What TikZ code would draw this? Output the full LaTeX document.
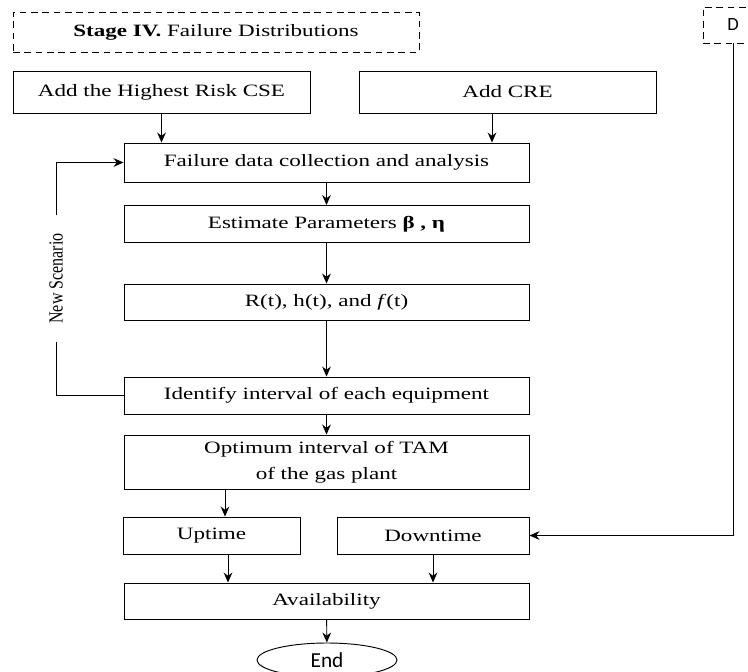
\documentclass[tikz,border=0pt]{standalone}
\usepackage{fontspec}
\setmainfont{Liberation Serif}[FakeStretch=1.33]
\newfontfamily\labelfont{Liberation Serif}[FakeStretch=0.8]
\newfontfamily\calfont{Carlito}
\usetikzlibrary{arrows.meta,positioning,calc,shapes.geometric}
\tikzset{
  stepbox/.style={draw,line width=0.7pt,minimum width=405*0.75pt,align=center,
    font=\fontsize{13}{15.6}\selectfont,inner sep=1pt},
  halfbox/.style={stepbox,minimum width=297*0.75pt,minimum height=42*0.75pt},
  stagebox/.style={draw,dashed,dash pattern=on 5pt off 3.5pt,line width=0.7pt,
    font=\fontsize{13}{15.6}\selectfont,inner sep=1pt},
  arrow/.style={-{Stealth[length=7.5pt,width=6.5pt]},line width=0.7pt},
  link/.style={line width=0.7pt}
}
\begin{document}
\begin{tikzpicture}[x=0.75pt,y=-0.75pt]
  \useasboundingbox (0,0) rectangle (748,671);
  % stage header and inputs
  \node[stagebox,minimum width=406*0.75pt,minimum height=40*0.75pt] (stage) at (216,32)
    {\textbf{Stage IV.} Failure Distributions};
  \node[stagebox,font=\calfont\fontsize{14}{16}\selectfont,minimum width=60*0.75pt,
    minimum height=36*0.75pt] (dbox) at (733,25) {D};
  \node[halfbox] (cse) at (161.5,92) {Add the Highest Risk CSE};
  \node[halfbox] (cre) at (507.5,92) {Add CRE};
  % main chain
  \node[stepbox,minimum height=39*0.75pt] (fail) at (326.5,162.5) {Failure data collection and analysis};
  \node[stepbox,minimum height=37*0.75pt] (est) at (326.5,224) {Estimate Parameters \textbf{β , η}};
  \node[stepbox,minimum height=36*0.75pt] (rel) at (326.5,302) {R(t), h(t), and \textit{f}(t)};
  \node[stepbox,minimum height=37*0.75pt] (ident) at (326.5,395.5) {Identify interval of each equipment};
  \node[stepbox,minimum height=54*0.75pt] (opt) at (326.5,462) {Optimum interval of TAM\\[4pt]of the gas plant};
  \node[stepbox,minimum width=177*0.75pt,minimum height=37*0.75pt] (up) at (211.5,535.5) {Uptime};
  \node[stepbox,minimum width=192*0.75pt,minimum height=37*0.75pt] (down) at (433,535.5) {Downtime};
  \node[stepbox,minimum height=36*0.75pt] (avail) at (326.5,601) {Availability};
  \node[draw,ellipse,line width=0.7pt,minimum width=140*0.75pt,minimum height=34*0.75pt,
    font=\calfont\fontsize{16}{18}\selectfont,inner sep=0pt] (endn) at (327,660) {End};
  \node[rotate=90,font=\labelfont\fontsize{15}{16}\selectfont,minimum width=127*0.75pt,
    inner sep=0pt] (scen) at (56,278.5) {New Scenario};
  \coordinate (crex) at (492,0);
  \coordinate (upx) at (225,0);
  \coordinate (upy) at (228,0);
  % connectors
  \draw[arrow] (cse.south) -- (cse.south |- fail.north);
  \draw[arrow] (cre.south -| crex) -- (fail.north -| crex);
  \draw[arrow] (fail) -- (est);
  \draw[arrow] (est) -- (rel);
  \draw[arrow] (rel) -- (ident);
  \draw[arrow] (ident) -- (opt);
  \draw[arrow] (opt.south -| upx) -- (up.north -| upx);
  \draw[arrow] (up.south -| upy) -- (avail.north -| upy);
  \draw[arrow] (down) -- (down |- avail.north);
  \draw[arrow] (avail) -- (endn);
  \draw[arrow] (dbox.south) |- (down.east);
  \draw[link] (ident.west) -| (scen.west);
  \draw[arrow] (scen.east) |- (fail.west);
\end{tikzpicture}
\end{document}
